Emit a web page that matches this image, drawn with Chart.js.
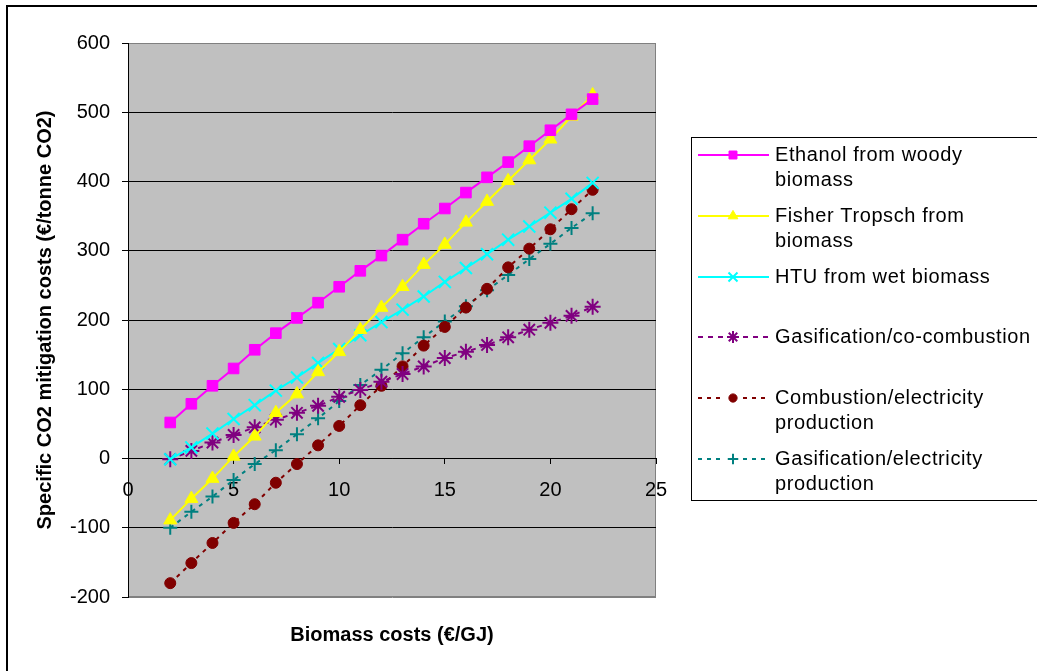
<!DOCTYPE html>
<html>
<head>
<meta charset="utf-8">
<title>Specific CO2 mitigation costs</title>
<script src="https://cdn.jsdelivr.net/npm/chart.js@4.4.1/dist/chart.umd.min.js"></script>
<style>
  html, body { margin: 0; padding: 0; background: #fff; overflow: hidden; }
  #wrap { position: relative; width: 1037px; height: 671px; }
  #frame {
    position: absolute; left: 6px; top: 5px; width: 1100px; height: 700px;
    border-left: 2px solid #000; border-top: 2px solid #000; pointer-events: none;
  }
  canvas { display: block; }
</style>
</head>
<body>
<div id="wrap">
  <canvas id="chart" width="1037" height="671"></canvas>
  <div id="frame"></div>
</div>
<script>
// Biomass costs (€/GJ)
const biomassCost = [2, 3, 4, 5, 6, 7, 8, 9, 10, 11, 12, 13, 14, 15, 16, 17, 18, 19, 20, 21, 22];

// Specific CO2 mitigation costs (€/tonne CO2)
const ethanolWoody = [52, 79, 105, 130, 157, 181, 203, 225, 248, 271, 293, 316, 339, 361, 384, 406, 428, 451, 474, 497, 519];
const fisherTropsch = [-89, -58, -29, 3, 32, 66, 93, 125, 154, 186, 218, 248, 280, 309, 341, 371, 401, 431, 461, 494, 525];
const htuWet = [-1, 16, 36, 57, 77, 98, 117, 138, 158, 178, 197, 215, 234, 255, 275, 295, 316, 335, 355, 375, 398];
const gasCoCombustion = [-1, 11, 23, 34, 45, 56, 66, 76, 89, 99, 111, 122, 133, 145, 154, 164, 175, 186, 196, 206, 219];
const combustionElec = [-180, -151, -122, -93, -66, -35, -8, 19, 47, 77, 105, 133, 163, 190, 218, 245, 276, 303, 331, 360, 388];
const gasElec = [-100, -77, -55, -31, -8, 12, 35, 58, 83, 106, 128, 152, 175, 198, 220, 243, 265, 288, 310, 333, 354];

const seriesNames = [
  "Ethanol from woody biomass",
  "Fisher Tropsch from biomass",
  "HTU from wet biomass",
  "Gasification/co-combustion",
  "Combustion/electricity production",
  "Gasification/electricity production",
];
// legend text as wrapped in the original
const legendLines = [
  ["Ethanol from woody", "biomass"],
  ["Fisher Tropsch from", "biomass"],
  ["HTU from wet biomass"],
  ["Gasification/co-combustion"],
  ["Combustion/electricity", "production"],
  ["Gasification/electricity", "production"],
];

const yTicks = [-200, -100, 0, 100, 200, 300, 400, 500, 600];
const xTicks = [0, 5, 10, 15, 20, 25];

const FONT = "'Liberation Sans', Arial, sans-serif";

const toPoints = (values) => values.map((v, i) => ({ x: biomassCost[i], y: v }));

const makeSeries = (label, values, color, style, radius, dash, pointBorderWidth) => ({
  label: label,
  data: toPoints(values),
  borderColor: color,
  backgroundColor: color,
  pointBackgroundColor: color,
  pointBorderColor: color,
  borderWidth: 2,
  borderDash: dash,
  pointStyle: style,
  pointRadius: radius,
  pointBorderWidth: pointBorderWidth,
  tension: 0,
});

// gray plot area with its thin gray frame
const plotBackground = {
  id: "plotBackground",
  beforeDraw(chart) {
    const { ctx, chartArea: a } = chart;
    ctx.save();
    ctx.fillStyle = "#C0C0C0";
    ctx.fillRect(a.left, a.top, a.right - a.left, a.bottom - a.top);
    ctx.strokeStyle = "#808080";
    ctx.lineWidth = 1;
    ctx.strokeRect(a.left + 0.5, a.top + 0.5, a.right - a.left - 1, a.bottom - a.top - 1);
    ctx.restore();
  },
};

// boxed legend on the right, with wrapped labels
const legendBox = {
  id: "legendBox",
  afterDraw(chart) {
    const ctx = chart.ctx;
    ctx.save();
    ctx.strokeStyle = "#000";
    ctx.lineWidth = 1;
    ctx.strokeRect(691.5, 137.5, 400, 363);
    ctx.font = "20px " + FONT;
    ctx.letterSpacing = "0.6px";
    ctx.textBaseline = "middle";
    chart.data.datasets.forEach((ds, i) => {
      const y = Math.round(155 + i * 60.8);
      ctx.save();
      ctx.strokeStyle = ds.borderColor;
      ctx.lineWidth = 2;
      ctx.setLineDash(ds.borderDash || []);
      ctx.beginPath();
      if (ds.borderDash && ds.borderDash.length) {
        ctx.moveTo(698, y); ctx.lineTo(724, y);
        ctx.moveTo(743, y); ctx.lineTo(769, y);
      } else {
        ctx.moveTo(698, y); ctx.lineTo(769, y);
      }
      ctx.stroke();
      ctx.setLineDash([]);
      ctx.fillStyle = ds.pointBackgroundColor;
      ctx.strokeStyle = ds.pointBorderColor;
      ctx.lineWidth = ds.pointBorderWidth;
      Chart.helpers.drawPoint(ctx, {
        pointStyle: ds.pointStyle,
        radius: ds.pointRadius * 0.75,
        rotation: 0,
        borderWidth: ds.pointBorderWidth,
      }, 733, y);
      ctx.restore();
      ctx.fillStyle = "#000";
      legendLines[i].forEach((line, j) => ctx.fillText(line, 775, y + j * 25));
    });
    ctx.restore();
  },
};

const chart = new Chart(document.getElementById("chart").getContext("2d"), {
  type: "line",
  data: {
    datasets: [
      makeSeries(seriesNames[0], ethanolWoody, "#FF00FF", "rect", 7.5, [], 1),
      makeSeries(seriesNames[1], fisherTropsch, "#FFFF00", "triangle", 7.5, [], 1),
      makeSeries(seriesNames[2], htuWet, "#00FFFF", "crossRot", 8.5, [], 2),
      makeSeries(seriesNames[3], gasCoCombustion, "#800080", "star", 8, [5, 5], 2),
      makeSeries(seriesNames[4], combustionElec, "#800000", "circle", 5.5, [4, 5], 1),
      makeSeries(seriesNames[5], gasElec, "#008080", "cross", 7, [4, 5], 2),
    ],
  },
  options: {
    responsive: false,
    animation: false,
    events: [],
    layout: { padding: { left: 20, top: 43, right: 381, bottom: 0 } },
    plugins: {
      legend: { display: false },
      tooltip: { enabled: false },
    },
    scales: {
      x: {
        type: "linear",
        position: { y: 0 },
        min: xTicks[0],
        max: xTicks[xTicks.length - 1],
        afterBuildTicks: (scale) => {
          scale.ticks = xTicks.map((v) => ({ value: v }));
        },
        grid: { drawOnChartArea: false, drawTicks: true, tickLength: 5, color: "#000" },
        border: { display: true, color: "#000", width: 1 },
        ticks: { color: "#000", padding: 15, maxRotation: 0, font: { family: FONT, size: 20 } },
      },
      xTitle: {
        type: "linear",
        position: "bottom",
        min: 0,
        max: 25,
        grid: { display: false, drawTicks: false },
        border: { display: false },
        ticks: { display: false },
        title: {
          display: true,
          text: "Biomass costs (€/GJ)",
          color: "#000",
          font: { family: FONT, size: 20, weight: "bold" },
          padding: { top: 0, bottom: 24 },
        },
        afterFit: (scale) => {
          scale.height = 74;
        },
      },
      y: {
        type: "linear",
        min: yTicks[0],
        max: yTicks[yTicks.length - 1],
        afterBuildTicks: (scale) => {
          scale.ticks = yTicks.map((v) => ({ value: v }));
        },
        grid: {
          color: (c) => (c.tick && (c.tick.value === 600 || c.tick.value === -200) ? "#808080" : "#000"),
          tickColor: "#000",
          tickLength: 6,
          lineWidth: 1,
        },
        border: { display: true, color: "#000", width: 1 },
        ticks: { color: "#000", padding: 12, font: { family: FONT, size: 20 } },
        title: {
          display: true,
          text: "Specific CO2 mitigation costs (€/tonne CO2)",
          color: "#000",
          font: { family: FONT, size: 20, weight: "bold" },
          padding: { top: 13, bottom: 0 },
        },
        afterFit: (scale) => {
          scale.width = 108;
        },
      },
    },
  },
  plugins: [plotBackground, legendBox],
});
</script>
</body>
</html>
